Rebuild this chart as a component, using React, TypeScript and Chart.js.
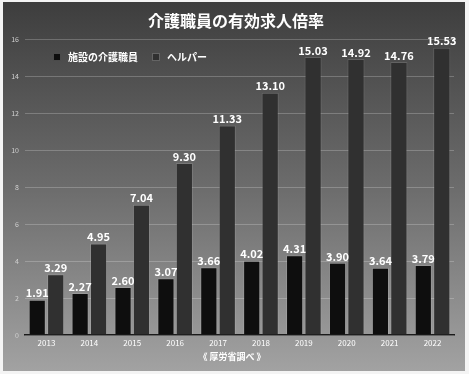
import React, { useEffect, useRef } from "react";
import { Chart, registerables } from "chart.js";

Chart.register(...registerables);

const title = "介護職員の有効求人倍率";
const source = "《 厚労省調べ 》";
const years = ["2013", "2014", "2015", "2016", "2017", "2018", "2019", "2020", "2021", "2022"];
const seriesNames = ["施設の介護職員", "ヘルパー"];
const facilityStaff = [1.91, 2.27, 2.6, 3.07, 3.66, 4.02, 4.31, 3.9, 3.64, 3.79];
const helpers = [3.29, 4.95, 7.04, 9.3, 11.33, 13.1, 15.03, 14.92, 14.76, 15.53];
const barColors = ["#0e0e0e", "#303030"];

const FONT = "'Noto Sans CJK JP', 'Noto Sans', sans-serif";

const decorPlugin = {
  id: "decor",
  beforeDraw(chart: any) {
    const { ctx, width, height } = chart;
    ctx.save();
    ctx.fillStyle = "#f4f4f4";
    ctx.fillRect(0, 0, width, height);
    const g = ctx.createLinearGradient(0, 3, 0, height - 3);
    g.addColorStop(0, "#3e3e3e");
    g.addColorStop(0.5, "#6c6c6c");
    g.addColorStop(1, "#a2a2a2");
    ctx.fillStyle = g;
    ctx.fillRect(3, 2, width - 7, height - 5);
    ctx.restore();
  },
  afterDraw(chart: any) {
    const { ctx, chartArea } = chart;
    ctx.save();
    ctx.fillStyle = "#ffffff";
    ctx.textAlign = "center";
    ctx.textBaseline = "middle";
    ctx.font = `bold 16px ${FONT}`;
    ctx.fillText(title, 236, 21);
    ctx.font = `bold 9px ${FONT}`;
    ctx.fillText(source, 232, 357);
    // legend
    ctx.textAlign = "left";
    ctx.font = `bold 10px ${FONT}`;
    const items = [
      { x: 53, label: seriesNames[0], color: barColors[0] },
      { x: 152, label: seriesNames[1], color: barColors[1] },
    ];
    items.forEach((it) => {
      ctx.fillStyle = it.color;
      ctx.fillRect(it.x, 53, 8, 8);
      ctx.strokeStyle = "rgba(255,255,255,0.25)";
      ctx.lineWidth = 1;
      ctx.strokeRect(it.x + 0.5, 53.5, 7, 7);
      ctx.fillStyle = "#ffffff";
      ctx.fillText(it.label, it.x + 15, 57.5);
    });
    ctx.restore();
  },
  afterDatasetsDraw(chart: any) {
    const { ctx } = chart;
    ctx.save();
    ctx.fillStyle = "#ffffff";
    ctx.textAlign = "center";
    ctx.textBaseline = "bottom";
    ctx.font = `bold 11px ${FONT}`;
    chart.data.datasets.forEach((ds: any, di: number) => {
      const meta = chart.getDatasetMeta(di);
      meta.data.forEach((bar: any, i: number) => {
        ctx.fillText(Number(ds.data[i]).toFixed(2), bar.x, bar.y - 1);
      });
    });
    ctx.restore();
  },
};

export default function App() {
  const ref = useRef<HTMLCanvasElement>(null);
  useEffect(() => {
    document.body.style.margin = "0";
    const chart = new Chart(ref.current!, {
      type: "bar",
      data: {
        labels: years,
        datasets: [
          {
            label: seriesNames[0],
            data: facilityStaff,
            backgroundColor: barColors[0],
            borderColor: "rgba(255,255,255,0.12)",
            borderWidth: 1,
            categoryPercentage: 0.86,
            barPercentage: 0.93,
          },
          {
            label: seriesNames[1],
            data: helpers,
            backgroundColor: barColors[1],
            borderColor: "rgba(255,255,255,0.12)",
            borderWidth: 1,
            categoryPercentage: 0.86,
            barPercentage: 0.93,
          },
        ],
      },
      options: {
        animation: false,
        responsive: false,
        layout: { padding: { left: 4, right: 15, top: 39, bottom: 19 } },
        plugins: { legend: { display: false }, title: { display: false }, tooltip: { enabled: false } },
        scales: {
          x: {
            grid: { display: false, drawTicks: false },
            border: { display: true, color: "#1a1a1a", width: 1.5 },
            ticks: { color: "#ffffff", font: { size: 8, family: FONT }, padding: 3 },
            afterFit(scale: any) {
              scale.height = 20;
            },
          },
          y: {
            min: 0,
            max: 16,
            ticks: { stepSize: 2, color: "#d0d0d0", font: { size: 7, family: FONT }, padding: 6 },
            grid: { color: "rgba(255,255,255,0.22)", drawTicks: false },
            border: { display: false },
            afterFit(scale: any) {
              scale.width = 21;
            },
          },
        },
      },
      plugins: [decorPlugin],
    });
    return () => chart.destroy();
  }, []);
  return <canvas ref={ref} width={469} height={374} style={{ display: "block" }} />;
}
